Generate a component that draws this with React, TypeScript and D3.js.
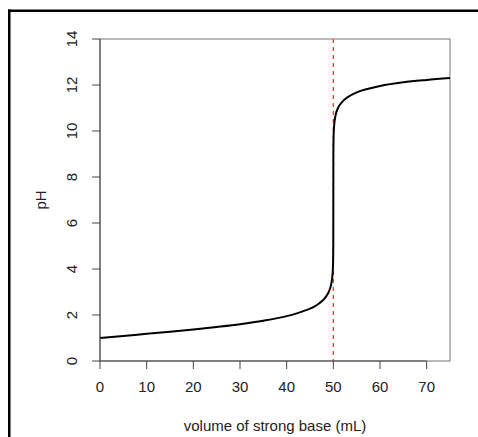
import React from "react";
import * as d3 from "d3";

const volume = [0, 5, 10, 15, 20, 25, 30, 35, 40, 42, 44, 45, 46, 47, 48, 48.5, 49, 49.5, 49.8, 49.9, 49.95, 49.99, 50, 50.01, 50.05, 50.1, 50.2, 50.5, 51, 52, 53, 55, 57.5, 60, 65, 70, 75];
const pH = [1.0, 1.09, 1.18, 1.27, 1.37, 1.48, 1.6, 1.75, 1.95, 2.06, 2.2, 2.28, 2.38, 2.51, 2.69, 2.82, 3.0, 3.3, 3.7, 4.0, 4.3, 5.0, 7.0, 9.0, 9.7, 10.0, 10.3, 10.7, 11.0, 11.29, 11.46, 11.68, 11.84, 11.96, 12.12, 12.22, 12.3];
const xTicks = [0, 10, 20, 30, 40, 50, 60, 70];
const yTicks = [0, 2, 4, 6, 8, 10, 12, 14];
const equivalence = 50;
const xLabel = "volume of strong base (mL)";
const yLabel = "pH";

export default function App() {
  const W = 478, H = 437;
  const left = 100, right = 450, top = 39, bottom = 361;
  const x = d3.scaleLinear().domain([0, 75]).range([left, right]);
  const y = d3.scaleLinear().domain([0, 14]).range([bottom, top]);
  const pts = volume.map((v, i) => [v, pH[i]] as [number, number]);
  const line = d3.line<[number, number]>().x(d => x(d[0])).y(d => y(d[1])).curve(d3.curveMonotoneX);
  const font = "'Liberation Sans', Arial, sans-serif";
  const textColor = "#222";
  const axisColor = "#444";
  const fs = 15;
  return (
    <div style={{ position: "absolute", left: 0, top: 0, width: W, height: H, background: "#fff" }}>
      <svg width={W} height={H} style={{ display: "block" }}>
        <rect x={0} y={0} width={W} height={H} fill="#fff" />
        <rect x={8} y={9.5} width={W} height={2.5} fill="#000" />
        <rect x={8} y={9.5} width={2.5} height={H} fill="#000" />
        <rect x={left} y={top} width={right - left} height={bottom - top} fill="none" stroke="#777" strokeWidth={1} />
        <line x1={x(equivalence)} x2={x(equivalence)} y1={top} y2={bottom} stroke="#ff3333" strokeWidth={1.3} strokeDasharray="4,4" />
        <path d={line(pts) || ""} fill="none" stroke="#000" strokeWidth={2} />
        {/* x axis */}
        <line x1={x(xTicks[0])} x2={x(xTicks[xTicks.length - 1])} y1={bottom} y2={bottom} stroke={axisColor} />
        {xTicks.map(t => (
          <g key={"x" + t}>
            <line x1={x(t)} x2={x(t)} y1={bottom} y2={bottom + 8} stroke={axisColor} />
            <text x={x(t)} y={388} textAnchor="middle" dominantBaseline="middle" fontFamily={font} fontSize={fs} fill={textColor}>{t}</text>
          </g>
        ))}
        {/* y axis */}
        <line x1={left} x2={left} y1={y(yTicks[0])} y2={y(yTicks[yTicks.length - 1])} stroke={axisColor} />
        {yTicks.map(t => (
          <g key={"y" + t}>
            <line x1={left - 8} x2={left} y1={y(t)} y2={y(t)} stroke={axisColor} />
            <text transform={`translate(73.5,${y(t)}) rotate(-90)`} textAnchor="middle" dominantBaseline="middle" fontFamily={font} fontSize={fs} fill={textColor}>{t}</text>
          </g>
        ))}
        <text x={(left + right) / 2} y={427} textAnchor="middle" dominantBaseline="middle" fontFamily={font} fontSize={fs} fill={textColor}>{xLabel}</text>
        <text transform={`translate(42,${(top + bottom) / 2}) rotate(-90)`} textAnchor="middle" dominantBaseline="middle" fontFamily={font} fontSize={fs} fill={textColor}>{yLabel}</text>
      </svg>
    </div>
  );
}
